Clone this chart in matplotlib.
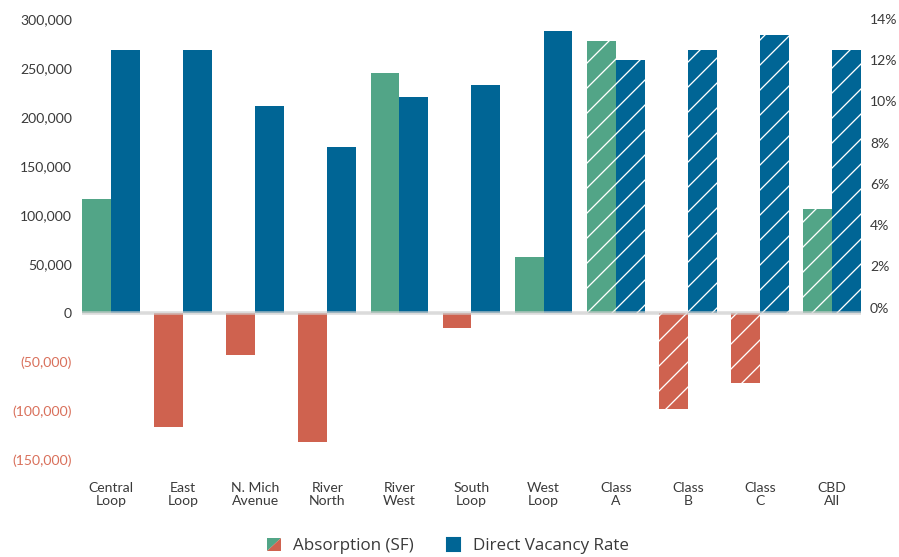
"""
Absorption vs direct vacancy rate by submarket.
"""

import numpy as np
import matplotlib
matplotlib.use("Agg")
import matplotlib.pyplot as plt
from matplotlib.patches import Patch, Polygon
from matplotlib.legend_handler import HandlerBase
from matplotlib.ticker import FuncFormatter

DPI = 150
W, H = 899, 557

CATEGORIES = ["Central\nLoop", "East\nLoop", "N. Mich\nAvenue", "River\nNorth", "River\nWest",
              "South\nLoop", "West\nLoop", "Class\nA", "Class\nB", "Class\nC", "CBD\nAll"]
ABSORPTION = [116000, -116000, -42500, -132000, 245000, -15000, 57000, 278000, -98000, -71000, 106000]
VACANCY = [12.5, 12.5, 9.8, 7.8, 10.2, 10.8, 13.4, 12.0, 12.5, 13.2, 12.5]
HATCHED = [False, False, False, False, False, False, False, True, True, True, True]
LEFT_TICKS = [-150000, -100000, -50000, 0, 50000, 100000, 150000, 200000, 250000, 300000]
RIGHT_TICKS = [0, 2, 4, 6, 8, 10, 12, 14]

GREEN = "#52a587"
RED = "#cf624f"
BLUE = "#006595"
TEXT = "#3a3a3a"
NEG_TEXT = "#d9705b"


def px(v):
    # pixel size -> points at this dpi
    return v * 72 / DPI


class SplitSquareHandler(HandlerBase):
    def create_artists(self, legend, orig_handle, xdescent, ydescent, width, height, fontsize, trans):
        x0, y0 = -xdescent, -ydescent
        upper = Polygon([[x0, y0], [x0, y0 + height], [x0 + width, y0 + height]],
                        closed=True, facecolor=GREEN, linewidth=0, transform=trans)
        lower = Polygon([[x0, y0], [x0 + width, y0], [x0 + width, y0 + height]],
                        closed=True, facecolor=RED, linewidth=0, transform=trans)
        return [upper, lower]


def neg_fmt(v, _):
    if v < 0:
        return f"({abs(v):,.0f})"
    return f"{v:,.0f}"


def main():
    plt.rcParams["font.family"] = ["Lato", "DejaVu Sans"]
    plt.rcParams["hatch.linewidth"] = px(1.3)

    fig = plt.figure(figsize=(W / DPI, H / DPI), dpi=DPI)
    ax = fig.add_axes([82 / W, 1 - 460 / H, 779 / W, 441 / H])
    ax2 = ax.twinx()

    x = np.arange(len(CATEGORIES))
    width = 0.4
    ax.set_xlim(-0.4, 10.4)
    ax.set_ylim(LEFT_TICKS[0], LEFT_TICKS[-1])
    ax2.set_ylim(-7.4, 14.0)

    # vacancy bars start at the absorption zero line
    lo1, hi1 = ax.get_ylim()
    lo2, hi2 = ax2.get_ylim()
    vac_base = lo2 + (0 - lo1) / (hi1 - lo1) * (hi2 - lo2)

    for i, (a, v, h) in enumerate(zip(ABSORPTION, VACANCY, HATCHED)):
        hatch = "//" if h else None
        ax.bar(x[i] - width / 2, a, width, color=GREEN if a >= 0 else RED,
               hatch=hatch, edgecolor="white", linewidth=0)
        ax2.bar(x[i] + width / 2, v - vac_base, width, bottom=vac_base, color=BLUE,
                hatch=hatch, edgecolor="white", linewidth=0)

    ax2.axhline(vac_base, color="#cfcfcf", alpha=0.75, linewidth=px(3.5), zorder=5)

    for a in (ax, ax2):
        for s in a.spines.values():
            s.set_visible(False)
        a.tick_params(length=0)

    ax.set_xticks(x)
    ax.set_xticklabels(CATEGORIES, fontsize=px(14), color=TEXT, linespacing=1.1)
    ax.tick_params(axis="x", pad=px(22))

    ax.set_yticks(LEFT_TICKS)
    ax.yaxis.set_major_formatter(FuncFormatter(neg_fmt))
    ax.tick_params(axis="y", labelsize=px(14), pad=px(10))
    for lbl, v in zip(ax.get_yticklabels(), LEFT_TICKS):
        lbl.set_color(NEG_TEXT if v < 0 else TEXT)

    ax2.set_yticks(RIGHT_TICKS)
    ax2.set_yticklabels([f"{t}%" for t in RIGHT_TICKS])
    ax2.tick_params(axis="y", labelsize=px(14), labelcolor=TEXT, pad=px(9))

    absorb_handle = Patch(label="Absorption (SF)")
    vac_handle = Patch(color=BLUE, label="Direct Vacancy Rate")
    leg = fig.legend(handles=[absorb_handle, vac_handle],
                     handler_map={absorb_handle: SplitSquareHandler()},
                     loc="center", bbox_to_anchor=(448 / W, 1 - 546 / H), ncol=2,
                     frameon=False, prop={"family": ["Open Sans", "DejaVu Sans"], "size": px(17)},
                     handlelength=0.82, handleheight=0.82, handletextpad=0.75, columnspacing=1.9)
    for t in leg.get_texts():
        t.set_color(TEXT)

    fig.savefig("out.png", dpi=DPI)


if __name__ == "__main__":
    main()
